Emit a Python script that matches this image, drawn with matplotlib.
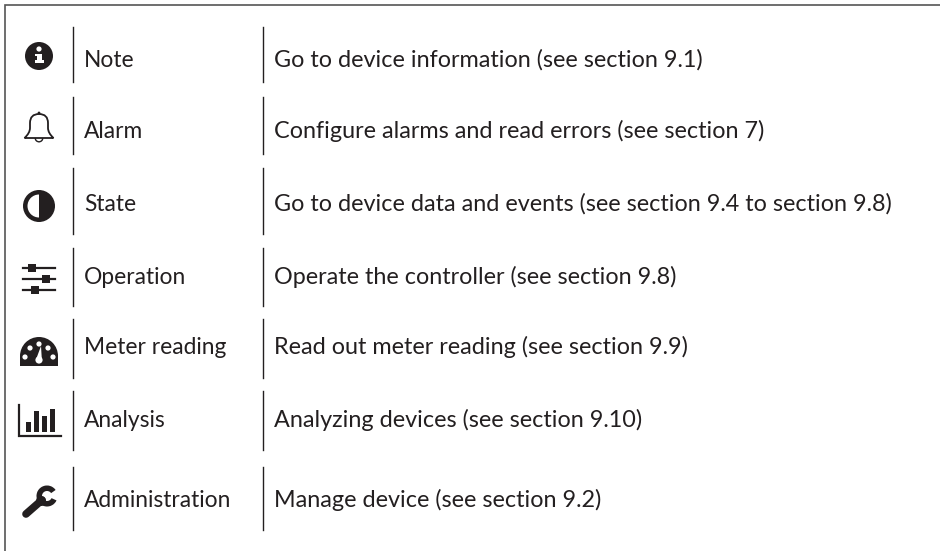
import matplotlib
matplotlib.use("Agg")
import numpy as np
import matplotlib.pyplot as plt
from matplotlib.patches import Circle, Wedge, Rectangle, Polygon, PathPatch
from matplotlib.path import Path

names = ["Note", "Alarm", "State", "Operation", "Meter reading", "Analysis", "Administration"]
actions = [
    "Go to device information (see section 9.1)",
    "Configure alarms and read errors (see section 7)",
    "Go to device data and events (see section 9.4 to section 9.8)",
    "Operate the controller (see section 9.8)",
    "Read out meter reading (see section 9.9)",
    "Analyzing devices (see section 9.10)",
    "Manage device (see section 9.2)",
]
sep_tops = [27, 97, 168, 248, 319, 391, 467]
sep_bottoms = [82, 154, 234, 306, 378, 450, 530]
text_y = [67, 138, 211, 284, 354, 427, 507]
icon_y = [56, 127, 206, 279, 351, 421, 497]
bar_tops = [422, 411, 416, 409]

INK = "#231f20"
plt.rcParams["font.family"] = ["Lato", "DejaVu Sans"]

fig = plt.figure(figsize=(9.40, 5.51), dpi=100)
ax = fig.add_axes([0, 0, 1, 1])
ax.set_xlim(0, 940)
ax.set_ylim(551, 0)
ax.axis("off")

ax.plot([5, 5, 940], [551, 5, 5], color="#555555", lw=1.2, solid_joinstyle="miter")

for top, bot, ty, name, act in zip(sep_tops, sep_bottoms, text_y, names, actions):
    ax.plot([73, 73], [top, bot], color=INK, lw=1.0)
    ax.plot([263, 263], [top, bot], color=INK, lw=1.0)
    ax.text(84, ty, name, fontsize=16.4, color=INK, va="baseline", ha="left")
    ax.text(274, ty, act, fontsize=16.8, color=INK, va="baseline", ha="left")

cx = 39

# Note icon
y = icon_y[0]
ax.add_patch(Circle((cx, y), 14, color=INK, lw=0))
ax.add_patch(Circle((cx, y - 7), 2.6, color="white", lw=0))
ax.add_patch(Rectangle((cx - 4, y - 2.5), 6.5, 2.8, color="white", lw=0))
ax.add_patch(Rectangle((cx - 2, y - 2.5), 4.5, 9, color="white", lw=0))
ax.add_patch(Rectangle((cx - 4.5, y + 4), 9, 3, color="white", lw=0))

# Alarm icon
y = icon_y[1]
bell = Path(
    [(cx - 14.5, y + 11), (cx - 9, y + 6), (cx - 9, y + 1), (cx - 9, y - 4), (cx - 9, y - 13),
     (cx, y - 13), (cx + 9, y - 13), (cx + 9, y - 4), (cx + 9, y + 1), (cx + 9, y + 6),
     (cx + 14.5, y + 11), (cx - 14.5, y + 11)],
    [Path.MOVETO, Path.CURVE3, Path.CURVE3, Path.LINETO, Path.CURVE3, Path.CURVE3,
     Path.CURVE3, Path.CURVE3, Path.LINETO, Path.CURVE3, Path.CURVE3, Path.CLOSEPOLY])
ax.add_patch(PathPatch(bell, fc="none", ec=INK, lw=1.3))
ax.add_patch(Circle((cx, y - 14), 1.4, color=INK, lw=0))
ax.add_patch(Wedge((cx, y + 11), 4.5, 0, 180, width=1.4, color=INK, lw=0))

# State icon
y = icon_y[2]
ax.add_patch(Circle((cx, y), 16, color=INK, lw=0))
ax.add_patch(Wedge((cx, y), 11.5, 90, 270, color="white", lw=0))

# Operation icon
y = icon_y[3]
for dy, kx in zip([-11, 0, 11], [-7, 7, -4]):
    ax.plot([cx - 16, cx + 16], [y + dy, y + dy], color=INK, lw=1.6)
    ax.add_patch(Rectangle((cx + kx - 4, y + dy - 4), 8, 8, color=INK, lw=0))

# Meter icon
y = icon_y[4]
ax.add_patch(Wedge((cx, y + 5), 19, 180, 360, color=INK, lw=0))
ax.add_patch(Rectangle((cx - 19, y + 4.5), 38, 10.5, color=INK, lw=0))
for dx, dy in [(-14, 4), (-9, -5), (0, -9), (9, -5), (14, 4)]:
    ax.add_patch(Circle((cx + dx, y + dy + 2), 2.6, color="white", lw=0))
ax.add_patch(Circle((cx, y + 9), 3.6, color="white", lw=0))
ax.add_patch(Polygon([(cx - 2.8, y + 8), (cx + 2.8, y + 8), (cx + 2, y - 5)], color="white", lw=0))

# Analysis icon
ax.plot([19, 19, 61], [405, 436, 436], color=INK, lw=1.6, solid_joinstyle="miter")
for x0, t in zip([26, 34, 42, 50], bar_tops):
    ax.add_patch(Rectangle((x0, t), 5, 432 - t, color=INK, lw=0))

# Administration icon
ax.plot([26, 42], [514, 500], color=INK, lw=5.5, solid_capstyle="round")
ax.add_patch(Wedge((47, 496), 10.5, 25, 325, width=5.5, color=INK, lw=0))
ax.add_patch(Circle((41, 501), 5, color=INK, lw=0))
ax.add_patch(Circle((26, 514), 1.1, color="white", lw=0))

fig.savefig("out.png", dpi=100)
